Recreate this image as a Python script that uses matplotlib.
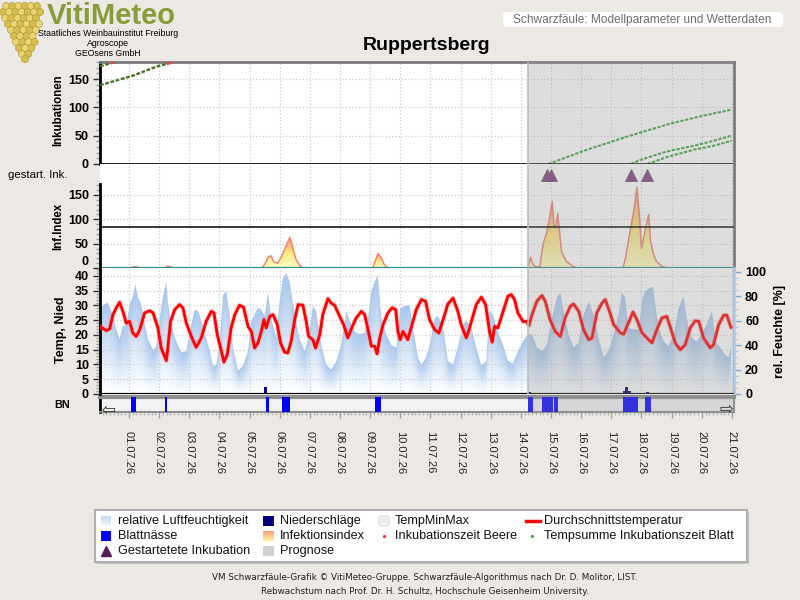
import numpy as np
import matplotlib
matplotlib.use('Agg')
from matplotlib import pyplot as plt
from matplotlib.colors import LinearSegmentedColormap
from matplotlib.patches import Polygon, Rectangle, FancyBboxPatch, Circle
from matplotlib.ticker import MultipleLocator

plt.rcParams['font.family'] = ['Liberation Sans', 'DejaVu Sans']

# ---- Daten, Zeit in Tagen ab 01.07.26 00:00 ----
dates = ['01.07.26', '02.07.26', '03.07.26', '04.07.26', '05.07.26', '06.07.26', '07.07.26',
         '08.07.26', '09.07.26', '10.07.26', '11.07.26', '12.07.26', '13.07.26', '14.07.26',
         '15.07.26', '16.07.26', '17.07.26', '18.07.26', '19.07.26', '20.07.26', '21.07.26']
prognose_ab = 13.23

# Durchschnittstemperatur [°C]
temp_t = [-0.92, -0.75, -0.64, -0.53, -0.42, -0.31, -0.20, -0.09, 0.02, 0.13, 0.24, 0.36,
          0.52, 0.69, 0.80, 0.96, 1.07, 1.18, 1.24, 1.29, 1.38, 1.52, 1.68, 1.79, 1.90, 2.07,
          2.23, 2.40, 2.56, 2.73, 2.82, 2.93, 3.04, 3.15, 3.26, 3.39, 3.51, 3.67, 3.80, 3.95,
          4.06, 4.17, 4.28, 4.39, 4.48, 4.55, 4.67, 4.78, 4.92, 5.03, 5.16, 5.27, 5.38, 5.50,
          5.61, 5.77, 5.88, 5.96, 6.10, 6.19, 6.33, 6.43, 6.60, 6.71, 6.82, 6.99, 7.12, 7.26,
          7.41, 7.54, 7.71, 7.82, 7.93, 8.04, 8.15, 8.23, 8.32, 8.43, 8.59, 8.73, 8.85, 8.92,
          9.00, 9.09, 9.25, 9.36, 9.53, 9.70, 9.84, 9.97, 10.14, 10.28, 10.42, 10.58, 10.75,
          10.91, 11.02, 11.19, 11.30, 11.52, 11.69, 11.83, 11.96, 12.05, 12.13, 12.24, 12.41,
          12.57, 12.68, 12.79, 12.90, 13.07, 13.18, 13.27, 13.37, 13.53, 13.70, 13.81, 13.97,
          14.14, 14.31, 14.47, 14.64, 14.75, 14.92, 15.08, 15.25, 15.36, 15.52, 15.69, 15.80,
          15.94, 16.08, 16.30, 16.41, 16.57, 16.72, 16.85, 17.02, 17.18, 17.35, 17.51, 17.68,
          17.84, 17.95, 18.12, 18.29, 18.45, 18.62, 18.78, 18.90, 19.06, 19.28, 19.39, 19.56,
          19.73, 19.83, 19.97]
temp_v = [22.6, 21.5, 22.1, 26.9, 29.2, 31.1, 28.0, 24.0, 24.6, 20.7, 19.5, 21.8,
          27.5, 28.2, 27.5, 22.4, 15.6, 12.8, 11.3, 15.6, 24.6, 28.6, 30.3, 29.2, 24.1, 19.5,
          15.8, 19.0, 24.6, 28.0, 27.5, 20.1, 15.6, 10.8, 13.3, 22.4, 26.9, 30.1, 29.4, 22.9,
          21.2, 15.6, 17.3, 21.2, 25.2, 22.4, 26.3, 26.9, 23.5, 17.3, 14.2, 13.9, 17.9, 25.2,
          30.3, 30.1, 24.6, 19.5, 18.4, 15.6, 20.1, 26.9, 32.3, 30.8, 30.1, 26.3, 23.5, 19.0,
          22.9, 25.8, 28.0, 26.9, 21.8, 16.2, 16.2, 13.6, 19.0, 23.5, 27.5, 29.2, 28.6, 21.2,
          18.4, 21.2, 18.4, 22.4, 28.6, 32.0, 31.4, 25.2, 21.8, 20.7, 25.2, 30.5, 32.5,
          28.0, 23.5, 19.0, 22.4, 30.3, 32.8, 30.3, 21.2, 17.6, 22.9, 22.4, 28.0,
          33.1, 33.7, 32.0, 27.5, 24.6, 24.6, 23.2, 26.9, 31.4, 33.4, 31.4, 25.2,
          21.2, 19.5, 25.8, 29.7, 30.5, 28.0, 21.8, 18.4, 19.0, 27.5, 30.8, 32.0,
          28.0, 23.5, 20.7, 20.3, 24.1, 27.8, 25.2, 20.7, 19.0, 17.3, 21.8, 25.8,
          26.3, 22.9, 17.3, 15.0, 16.7, 22.4, 24.8, 24.6, 19.0, 15.6, 16.7, 23.5,
          26.7, 26.7, 22.6]

# relative Luftfeuchtigkeit [%]
rh_t = [-0.97, -0.86, -0.70, -0.59, -0.42, -0.31, -0.20, -0.09, 0.02, 0.13, 0.21, 0.30,
        0.41, 0.52, 0.63, 0.80, 0.91, 1.02, 1.13, 1.24, 1.29, 1.40, 1.57, 1.74, 1.90, 2.07,
        2.18, 2.29, 2.40, 2.51, 2.68, 2.79, 2.90, 3.01, 3.12, 3.23, 3.34, 3.45, 3.62, 3.78,
        3.95, 4.06, 4.17, 4.28, 4.39, 4.50, 4.61, 4.72, 4.89, 5.00, 5.11, 5.22, 5.33, 5.50,
        5.66, 5.83, 5.99, 6.10, 6.21, 6.38, 6.54, 6.71, 6.88, 7.04, 7.21, 7.32, 7.49, 7.65,
        7.82, 7.93, 8.04, 8.15, 8.26, 8.37, 8.53, 8.70, 8.87, 9.00, 9.14, 9.31, 9.42, 9.59,
        9.70, 9.86, 10.03, 10.14, 10.25, 10.42, 10.58, 10.75, 10.91, 11.08, 11.19, 11.35,
        11.52, 11.69, 11.85, 11.96, 12.07, 12.24, 12.41, 12.57, 12.74, 12.90, 13.07, 13.23,
        13.37, 13.53, 13.70, 13.86, 14.03, 14.20, 14.31, 14.42, 14.58, 14.75, 14.92, 15.08,
        15.25, 15.41, 15.58, 15.75, 15.91, 16.08, 16.24, 16.35, 16.46, 16.57, 16.74, 16.91,
        17.02, 17.12, 17.29, 17.38, 17.46, 17.57, 17.74, 17.90, 18.07, 18.23, 18.40, 18.51,
        18.67, 18.84, 19.01, 19.17, 19.34, 19.45, 19.61, 19.78, 19.89, 19.97]
rh_v = [68, 73, 75, 68, 53, 45, 56, 56, 73, 80, 90, 79,
        73, 58, 45, 36, 39, 62, 80, 92, 76, 57, 43, 34, 35, 57,
        69, 68, 60, 51, 35, 23, 24, 42, 81, 84, 65, 38, 19, 23,
        35, 60, 65, 71, 69, 64, 83, 62, 46, 76, 95, 99, 92, 65,
        45, 35, 50, 72, 68, 40, 24, 20, 27, 40, 68, 60, 51, 49,
        50, 62, 84, 92, 97, 62, 49, 40, 38, 70, 72, 73, 54, 30,
        24, 30, 46, 62, 64, 55, 27, 24, 38, 57, 60, 55,
        38, 23, 27, 68, 65, 51, 40, 27, 25, 35, 43, 49,
        49, 38, 35, 40, 62, 79, 83, 68, 49, 38, 42, 65,
        76, 65, 45, 30, 35, 49, 65, 83, 79, 54, 53, 53,
        76, 84, 87, 88, 73, 54, 43, 39, 49, 70, 80, 60,
        46, 43, 50, 57, 68, 43, 38, 32, 30, 39]

# Infektionsindex
inf_t = [0.07, 0.17, 0.27, 0.36, 1.19, 1.29, 1.39, 1.49,
         4.41, 4.51, 4.61, 4.71, 4.81, 4.94, 5.07, 5.21, 5.34, 5.44, 5.54, 5.67, 5.77,
         8.09, 8.16, 8.26, 8.36, 8.46, 8.59,
         13.20, 13.25, 13.32, 13.41, 13.50, 13.63, 13.69, 13.76, 13.85, 13.94, 14.04, 14.10,
         14.16, 14.22, 14.27, 14.35, 14.52, 14.74, 14.85,
         16.39, 16.48, 16.59, 16.71, 16.78, 16.85, 16.92, 17.00, 17.08, 17.17, 17.24, 17.30,
         17.39, 17.50, 17.67, 17.83]
inf_v = [0, 3, 2, 0, 0, 4, 2, 0,
         0, 8, 22, 25, 12, 10, 25, 45, 63, 40, 18, 5, 0,
         0, 12, 30, 22, 8, 0,
         0, 3, 22, 6, 3, 2, 30, 54, 71, 98, 137, 88,
         84, 112, 84, 33, 13, 3, 0,
         0, 23, 64, 105, 132, 166, 118, 40, 64, 91, 110, 57,
         30, 13, 4, 0]
inf_schwelle = 85

# Niederschläge [mm]
nied_t = [4.53, 13.28, 16.45, 16.52, 16.59, 17.21]
nied_v = [2.5, 0.8, 0.9, 2.3, 0.9, 0.6]

# Blattnässe (Beginn, Ende)
bn_beginn = [0.08, 1.20, 4.54, 5.07, 8.16, 13.24, 13.70, 14.10, 16.38, 17.11]
bn_ende = [0.22, 1.26, 4.63, 5.33, 8.36, 13.39, 14.05, 14.23, 16.87, 17.31]

# Inkubationen (laufende aus der Vorperiode)
ink1_t = [-0.96, 0.14, 0.92, 1.25]
ink1_v = [139, 156, 172, 176.5]
ink1_beere_t = [1.25, 1.47]
ink1_beere_v = [176.5, 179]
ink2_t = [-0.96, -0.62]
ink2_v = [172.5, 177.5]
ink2_beere_t = [-0.62, -0.50]
ink2_beere_v = [177.5, 179]
# neu gestartete Inkubationen (Tempsumme Blatt)
inkA_t = [13.91, 15.18, 16.62, 17.94, 18.94, 19.99]
inkA_v = [0, 25, 50, 71, 84, 96]
inkB_t = [16.65, 16.95, 17.83, 18.72, 19.33, 19.99]
inkB_v = [0, 7, 22, 32, 40, 50]
inkC_t = [17.20, 17.83, 18.72, 19.38, 19.99]
inkC_v = [0, 12, 25, 32, 41]
gestartet_t = [13.86, 13.99, 16.65, 17.18]

# ---- Layout ----
W, H = 800, 600
X0, X1 = -0.96, 20.07
fig = plt.figure(figsize=(8, 6), dpi=100, facecolor='#ECE9E4')


def box(l, t, r, b):
    return [l / W, 1 - b / H, (r - l) / W, (b - t) / H]


def bold_yticks(ax, ticks):
    ax.set_yticks(ticks)
    return ax.set_yticklabels([str(v) for v in ticks], fontsize=9, fontweight='bold')


def base(ax, grid_y=True):
    ax.set_xlim(X0, X1)
    ax.set_facecolor('white')
    for s in ax.spines.values():
        s.set_visible(False)
    ax.tick_params(axis='x', which='both', bottom=False, labelbottom=False)
    ax.grid(True, axis='x', color='#CCCCCC', linestyle=':', linewidth=0.9)
    if grid_y:
        ax.grid(True, axis='y', color='#CCCCCC', linestyle=':', linewidth=0.9)
    ax.axvspan(prognose_ab, X1, facecolor='#9A9A9A', alpha=0.33, lw=0, zorder=20)
    ax.axvline(prognose_ab, color='#BDBDBD', lw=1.2, zorder=21)


def left_spine(ax):
    ax.spines['left'].set_visible(True)
    ax.spines['left'].set_color('black')
    ax.spines['left'].set_linewidth(2)
    ax.tick_params(axis='y', which='major', length=5, width=1, pad=3, color='#333333')
    ax.tick_params(axis='y', which='minor', length=3, width=1, color='#A0A0A0')


def right_spine(ax, color='#7A7A7A'):
    ax.spines['right'].set_visible(True)
    ax.spines['right'].set_color(color)
    ax.spines['right'].set_linewidth(2)


# Inkubationen
ax_ink = fig.add_axes(box(100, 62, 734, 164))
base(ax_ink)
left_spine(ax_ink)
right_spine(ax_ink)
ax_ink.spines['top'].set_visible(True)
ax_ink.spines['top'].set_color('#7A7A7A')
ax_ink.spines['top'].set_linewidth(2)
ax_ink.set_ylim(0, 180)
bold_yticks(ax_ink, [0, 50, 100, 150])
ax_ink.yaxis.set_minor_locator(MultipleLocator(10))
ax_ink.axhline(0, color='black', lw=1.2, zorder=5)
for t, v in [(ink1_t, ink1_v), (ink2_t, ink2_v)]:
    ax_ink.plot(t, v, color='#4A7223', lw=1.7, ls=(0, (1.6, 0.7)), zorder=4)
for t, v in [(ink1_beere_t, ink1_beere_v), (ink2_beere_t, ink2_beere_v)]:
    ax_ink.plot(t, v, color='#F04040', lw=1.7, ls=(0, (1.6, 0.7)), zorder=4)
for t, v in [(inkA_t, inkA_v), (inkB_t, inkB_v), (inkC_t, inkC_v)]:
    ax_ink.plot(t, v, color='#3BAA3B', lw=1.5, ls=(0, (1.6, 0.7)), zorder=4)

# gestartete Inkubationen
ax_st = fig.add_axes(box(100, 164, 734, 184), sharex=ax_ink)
base(ax_st, grid_y=False)
right_spine(ax_st)
ax_st.set_ylim(0, 1)
ax_st.set_yticks([])
ax_st.plot(gestartet_t, [0.45] * len(gestartet_t), ls='none', marker='^', ms=8,
           color='#883A88', mec='#5A5A5A', mew=0.6, zorder=6)

# Infektionsindex
ax_inf = fig.add_axes(box(100, 184, 734, 268), sharex=ax_ink)
base(ax_inf)
left_spine(ax_inf)
right_spine(ax_inf)
cmap_inf = LinearSegmentedColormap.from_list('inf', ['#FFFFC4', '#FCE57E', '#F39A7C'])
it = np.array(inf_t)
iv = np.array(inf_v, dtype=float)
idx = np.where(iv > 0)[0]
for g in np.split(idx, np.where(np.diff(idx) > 1)[0] + 1):
    lo, hi = max(g[0] - 1, 0), min(g[-1] + 1, len(iv) - 1)
    t, v = it[lo:hi + 1], iv[lo:hi + 1]
    verts = [(t[0], 0)] + list(zip(t, v)) + [(t[-1], 0)]
    poly = Polygon(verts, closed=True, facecolor='none', edgecolor='none')
    ax_inf.add_patch(poly)
    grad = np.linspace(0, 1, 120).reshape(-1, 1)
    im = ax_inf.imshow(grad, extent=[t[0], t[-1], 0, v.max()], origin='lower',
                       aspect='auto', cmap=cmap_inf, zorder=2, interpolation='bilinear')
    im.set_clip_path(poly)
    ax_inf.plot(t, v, color='#F08474', lw=1.1, zorder=3)
ax_inf.axhline(inf_schwelle, color='black', lw=1.1, zorder=5)
ax_inf.axhline(0, color='#2E8A8A', lw=1.6, zorder=6)
ax_inf.set_xlim(X0, X1)
ax_inf.set_ylim(0, 172.6)
lbls = bold_yticks(ax_inf, [0, 50, 100, 150])
lbls[0].set_va('bottom')
ax_inf.yaxis.set_minor_locator(MultipleLocator(10))

# Temperatur / Niederschlag (links) und rel. Feuchte (rechts)
ax_t = fig.add_axes(box(100, 268, 734, 394), sharex=ax_ink)
ax_rh = ax_t.twinx()
ax_t.set_zorder(ax_rh.get_zorder() + 1)
base(ax_t)
ax_t.patch.set_visible(False)
left_spine(ax_t)
ax_rh.set_xlim(X0, X1)
for s in ax_rh.spines.values():
    s.set_visible(False)
right_spine(ax_rh, '#A9CCF2')
ax_rh.patch.set_visible(True)
ax_rh.patch.set_facecolor('white')
ax_rh.set_ylim(0, 103.2)
ax_rh.set_yticks(range(0, 101, 20))
ax_rh.set_yticklabels([str(v) for v in range(0, 101, 20)], fontsize=9, fontweight='bold')
ax_rh.yaxis.set_minor_locator(MultipleLocator(5))
ax_rh.tick_params(axis='y', which='major', length=5, width=1, pad=3, color='#7FA8D8')
ax_rh.tick_params(axis='y', which='minor', length=3, width=1, color='#A9CCF2')

cmap_rh = LinearSegmentedColormap.from_list('rh', [(0, '#FFFFFF'), (0.35, '#E4EEFA'), (1, '#A7C7EE')])
cols = np.linspace(X0, X1, 800)
hcol = np.interp(cols, rh_t, rh_v)
rows = np.linspace(0, 103.2, 260)
shade = np.clip(rows[:, None] / hcol[None, :], 0, 1)
poly = Polygon([(rh_t[0], 0)] + list(zip(rh_t, rh_v)) + [(rh_t[-1], 0)], closed=True,
               facecolor='none', edgecolor='none')
ax_rh.add_patch(poly)
im = ax_rh.imshow(shade, extent=[X0, X1, 0, 103.2], origin='lower', aspect='auto',
                  cmap=cmap_rh, zorder=1, interpolation='bilinear')
im.set_clip_path(poly)
ax_rh.set_xlim(X0, X1)
ax_rh.set_ylim(0, 103.2)

ax_t.plot(temp_t, temp_v, color='#FF8A8A', lw=3.4, alpha=0.45, zorder=3)
ax_t.plot(temp_t, temp_v, color='#FF0000', lw=2.0, zorder=4)
ax_t.bar(nied_t, nied_v, width=0.1, color='#000080', zorder=5)
ax_t.axhline(0, color='black', lw=1.6, zorder=6)
ax_t.set_ylim(0, 42.7)
bold_yticks(ax_t, list(range(0, 41, 5)))
ax_t.yaxis.set_minor_locator(MultipleLocator(1))

# Blattnässe
ax_bn = fig.add_axes(box(100, 397, 734, 412), sharex=ax_ink)
ax_bn.set_xlim(X0, X1)
ax_bn.set_facecolor('#F2F2F2')
ax_bn.set_ylim(0, 1)
ax_bn.set_yticks([])
ax_bn.broken_barh([(b, e - b) for b, e in zip(bn_beginn, bn_ende)], (0, 1),
                  facecolors='#0000FF', zorder=3)
ax_bn.axvspan(prognose_ab, X1, facecolor='#9A9A9A', alpha=0.33, lw=0, zorder=20)
for s in ['top', 'bottom', 'right']:
    ax_bn.spines[s].set_color('#8E8E8E')
ax_bn.spines['top'].set_linewidth(3)
ax_bn.spines['bottom'].set_linewidth(1.5)
ax_bn.spines['right'].set_linewidth(1.5)
ax_bn.spines['left'].set_color('black')
ax_bn.spines['left'].set_linewidth(2)
ax_bn.set_xticks(np.arange(len(dates)))
ax_bn.set_xticklabels(dates, rotation=270, fontsize=8, color='#222222')
ax_bn.xaxis.set_minor_locator(MultipleLocator(0.125))
ax_bn.tick_params(axis='x', which='major', length=4, width=1, color='#A0A0A0', pad=10)
ax_bn.tick_params(axis='x', which='minor', length=2, width=1, color='#B8B8B8')

# ---- Beschriftungen, Logo, Legende (Pixelkoordinaten) ----
ov = fig.add_axes([0, 0, 1, 1])
ov.set_zorder(10)
ov.axis('off')

# Logo: Traube
grape_rows = [(6, 6, 6), (12, 3, 7), (18, 5, 6), (24, 8, 6), (30, 11, 5),
              (36, 14, 4), (42, 16, 4), (48, 19, 3), (54, 22, 2), (59, 25, 1)]
for k, (gy, gx, n) in enumerate(grape_rows):
    for j in range(n):
        col = '#E9D672' if (j + k) % 2 == 0 else '#D8BE4E'
        ov.add_patch(Circle((gx + j * 6.2, gy), 3.5, facecolor=col, edgecolor='#B59E3C', lw=0.5))
ov.text(47, 24, 'VitiMeteo', fontsize=21, fontweight='bold', color='#8A9B3A', va='baseline')
ov.text(108, 33.5, 'Staatliches Weinbauinstitut Freiburg', fontsize=6.3, ha='center', va='center')
ov.text(108, 44, 'Agroscope', fontsize=6.3, ha='center', va='center')
ov.text(108, 54, 'GEOsens GmbH', fontsize=6.3, ha='center', va='center')

ov.add_patch(FancyBboxPatch((503, 12), 280, 15, boxstyle='round,pad=0,rounding_size=4',
                            facecolor='white', edgecolor='none'))
ov.text(513, 19.5, 'Schwarzfäule: Modellparameter und Wetterdaten', fontsize=8.6,
        color='#6E6E6E', va='center', ha='left')
ov.text(427, 45, 'Ruppertsberg', fontsize=14, fontweight='bold', ha='center', va='center')

ov.text(58, 110, 'Inkubationen', rotation=90, fontsize=8.3, fontweight='bold', ha='center', va='center')
ov.text(8, 175, 'gestart. Ink.', fontsize=8.2, ha='left', va='center')
ov.text(58, 226, 'Inf.Index', rotation=90, fontsize=8.3, fontweight='bold', ha='center', va='center')
ov.text(61, 330, 'Temp, Nied', rotation=90, fontsize=9, fontweight='bold', ha='center', va='center')
ov.text(780, 331, 'rel. Feuchte [%]', rotation=90, fontsize=9, fontweight='bold', ha='center', va='center')
ov.text(54, 405, 'BN', fontsize=7.8, fontweight='bold', ha='left', va='center')
ov.text(108, 410, '\u21e6', family='DejaVu Sans', fontsize=12, ha='center', va='center', color='#333333')
ov.text(726, 409, '\u21e8', family='DejaVu Sans', fontsize=12, ha='center', va='center', color='#333333')

# Legende
ov.add_patch(Rectangle((97, 512), 652, 52, facecolor='#C4C4C4', edgecolor='none'))
ov.add_patch(Rectangle((95, 510), 652, 52, facecolor='white', edgecolor='#B0B0B0', lw=1.5))
g = np.linspace(0, 1, 20).reshape(-1, 1)
ov.imshow(g, extent=[101, 111, 526, 516], cmap=LinearSegmentedColormap.from_list('a', ['#C4D9F4', '#F2F7FD']),
          aspect='auto', origin='upper', zorder=3)
ov.imshow(g, extent=[263, 274, 541, 531], cmap=LinearSegmentedColormap.from_list('b', ['#F4A07E', '#FFF7A0']),
          aspect='auto', origin='upper', zorder=3)
ov.add_patch(Rectangle((101, 531), 10, 10, facecolor='#0000FF', edgecolor='none', zorder=3))
ov.add_patch(Rectangle((263, 516), 11, 10, facecolor='#000080', edgecolor='none', zorder=3))
ov.add_patch(FancyBboxPatch((379, 516), 10, 10, boxstyle='round,pad=0,rounding_size=2',
                            facecolor='#EFEFEF', edgecolor='#E2E2E2', zorder=3))
ov.add_patch(Rectangle((263, 546), 11, 10, facecolor='#D2D2D2', edgecolor='none', zorder=3))
ov.plot([526, 540], [521, 521], color='#FF0000', lw=2.5, zorder=3)
ov.plot([384], [536], marker='.', ms=2.5, color='#FF3030', zorder=3)
ov.plot([532], [536], marker='.', ms=2.5, color='#3BAA3B', zorder=3)
ov.plot([106], [551], marker='^', ms=7, color='#5A1A5A', zorder=3)
leg = [(118, 521, 'relative Luftfeuchtigkeit'), (280, 521, 'Niederschläge'),
       (395, 521, 'TempMinMax'), (544, 521, 'Durchschnittstemperatur'),
       (118, 536, 'Blattnässe'), (280, 536, 'Infektionsindex'),
       (395, 536, 'Inkubationszeit Beere'), (544, 536, 'Tempsumme Inkubationszeit Blatt'),
       (118, 551, 'Gestartetete Inkubation'), (280, 551, 'Prognose')]
for lx, ly, s in leg:
    ov.text(lx, ly, s, fontsize=9.1, ha='left', va='center', color='#111111', zorder=4)

ov.text(425, 577, 'VM Schwarzfäule-Grafik © VitiMeteo-Gruppe. Schwarzfäule-Algorithmus nach Dr. D. Molitor, LIST.',
        family='DejaVu Sans', fontsize=6.3, ha='center', va='center', color='#222222')
ov.text(425, 591, 'Rebwachstum nach Prof. Dr. H. Schultz, Hochschule Geisenheim University.',
        family='DejaVu Sans', fontsize=6.3, ha='center', va='center', color='#222222')

ov.set_xlim(0, W)
ov.set_ylim(H, 0)

fig.savefig('out.png', dpi=100, facecolor=fig.get_facecolor())
